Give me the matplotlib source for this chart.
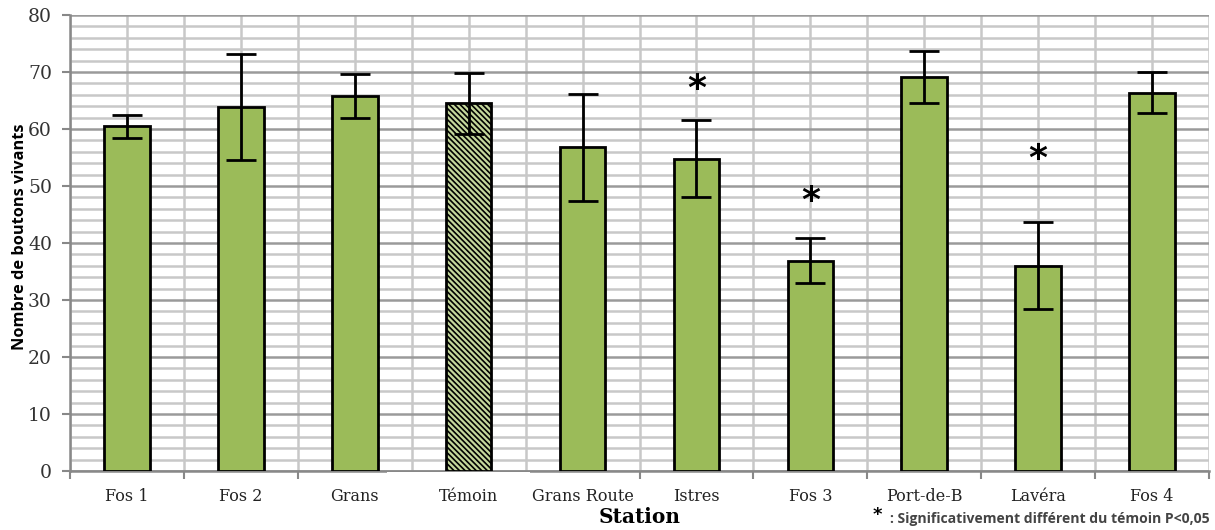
import matplotlib
matplotlib.use("Agg")
import matplotlib.pyplot as plt
import numpy as np
from matplotlib.patches import Rectangle
import matplotlib.transforms as mtransforms

stations = ["Fos 1", "Fos 2", "Grans", "Témoin", "Grans Route", "Istres",
            "Fos 3", "Port-de-B", "Lavéra", "Fos 4"]
means = [60.5, 63.8, 65.8, 64.5, 56.8, 54.8, 36.9, 69.1, 36.0, 66.4]
errors = [2.0, 9.3, 3.8, 5.3, 9.4, 6.7, 4.0, 4.6, 7.6, 3.6]
signif_stations = ["Istres", "Fos 3", "Lavéra"]
signif_y = [67.0, 47.3, 54.8]
control = "Témoin"

green = "#9bbb59"
light_green = "#c4d79b"

plt.rcParams['hatch.linewidth'] = 1.2
fig = plt.figure(figsize=(12.15, 5.30), dpi=100)
ax = fig.add_axes([70/1215, 1-471/530, (1209-70)/1215, (471-15)/530])

x = np.arange(len(stations))
face = [light_green if s == control else green for s in stations]
bars = ax.bar(x, means, width=0.4, color=face, edgecolor="black",
              linewidth=2.0, zorder=3)
for b, s in zip(bars, stations):
    if s == control:
        b.set_hatch("\\\\\\\\\\\\")
ax.errorbar(x, means, yerr=errors, fmt="none", ecolor="black",
            elinewidth=2.0, capsize=11, capthick=2.0, zorder=4)

for s, yv in zip(signif_stations, signif_y):
    ax.text(stations.index(s), yv, "*", ha="center", va="center",
            fontsize=26, fontweight="bold", color="black", zorder=5)

ax.set_xlim(-0.5, len(stations) - 0.5)
ax.set_ylim(0, 80)

# gridlines
ax.set_yticks(np.arange(0, 81, 10))
ax.set_yticks(np.arange(0, 81, 2), minor=True)
ax.set_xticks(np.arange(-0.5, len(stations), 1.0))
ax.set_xticks(np.arange(0, len(stations), 1.0), minor=True)
ax.grid(which="minor", axis="y", color="#c8c8c8", linewidth=1.8, zorder=0)
ax.grid(which="major", axis="y", color="#9a9a9a", linewidth=1.8, zorder=0)
ax.grid(which="both", axis="x", color="#c8c8c8", linewidth=1.8, zorder=0)
ax.set_axisbelow(True)

ax.set_xticklabels([])
tx = mtransforms.blended_transform_factory(ax.transData, ax.transAxes)
for xi, s in zip(x, stations):
    ax.text(xi, -0.055, s, transform=tx,
            ha="center", va="center", fontsize=11.5, family="DejaVu Serif", color="#222222")
ax.tick_params(axis="x", which="major", length=6, width=1.5, color="#888888", direction="out")
ax.tick_params(axis="x", which="minor", length=0)
ax.tick_params(axis="y", which="major", length=6, width=1.5, color="#888888", direction="out",
               labelsize=13.5, labelcolor="#333333", pad=7)
ax.tick_params(axis="y", which="minor", length=0)
for lbl in ax.get_yticklabels():
    lbl.set_family("DejaVu Serif")

for side in ["top", "right"]:
    ax.spines[side].set_visible(False)
for side in ["left", "bottom"]:
    ax.spines[side].set_color("#888888")
    ax.spines[side].set_linewidth(1.8)

ax.set_ylabel("Nombre de boutons vivants", fontsize=11.8, fontweight="bold",
              family="Open Sans")
ax.yaxis.set_label_coords(-0.037, 0.513)

fig.text(640/1215, 1-517/530, "Station", ha="center", va="center",
         fontsize=14.5, fontweight="bold", family="DejaVu Serif")

# white patch under the control category (as in the original)
ax.add_patch(Rectangle((2.28, -0.022), 3.54 - 2.28, 0.019, transform=tx,
                       facecolor="white", edgecolor="none", clip_on=False, zorder=6))

fig.text(877/1215, 1-515/530, "*", ha="center", va="center", fontsize=13,
         fontweight="bold", color="black")
fig.text(1210/1215, 1-519/530, ": Significativement différent du témoin P<0,05",
         ha="right", va="center", fontsize=10.1, fontweight="bold",
         family="Open Sans", color="#444444")

fig.savefig("out.png", dpi=100)
